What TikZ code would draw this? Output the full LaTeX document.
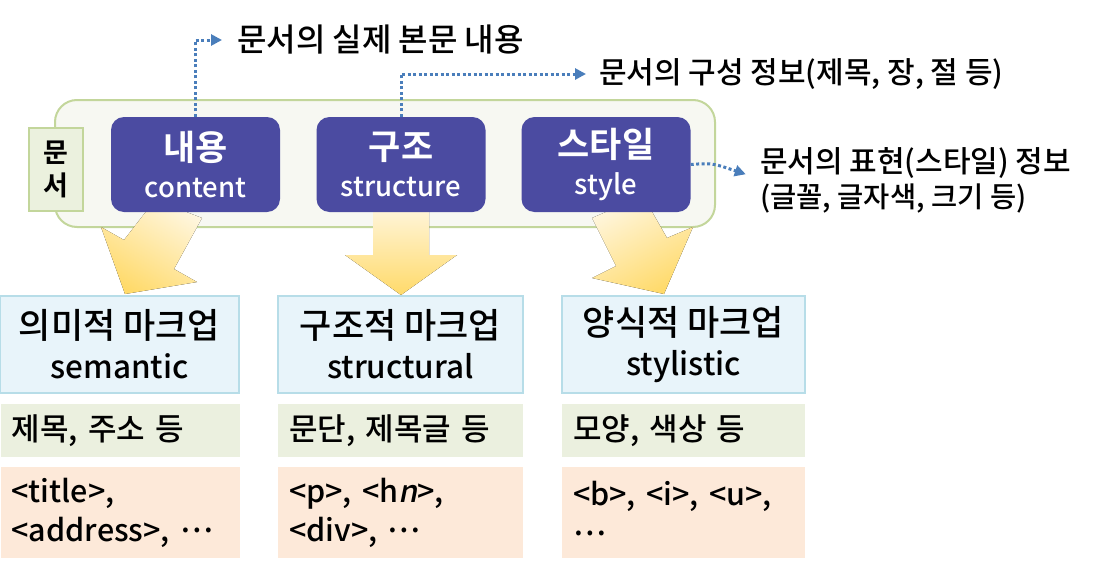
\documentclass[tikz,border=0pt]{standalone}
\usepackage{fontspec}
\setmainfont{Noto Sans CJK KR}[UprightFont={* Medium}, BoldFont={* Bold}, AutoFakeSlant=0.2]
\usetikzlibrary{arrows.meta}
\definecolor{docline}{HTML}{C3D69B}
\definecolor{docfill}{HTML}{F7F8F2}
\definecolor{doclabel}{HTML}{EBF1DE}
\definecolor{partfill}{HTML}{4B4BA1}
\definecolor{dotblue}{HTML}{4A7EBB}
\definecolor{markfill}{HTML}{E8F4FA}
\definecolor{markline}{HTML}{B7DDE8}
\definecolor{examplefill}{HTML}{EBF0DF}
\definecolor{tagfill}{HTML}{FDE9D9}
\definecolor{arrowtop}{HTML}{FFF6DE}
\definecolor{arrowbot}{HTML}{FFDA6A}
\newcommand{\etcdots}{\raisebox{0.28em}{…}}

\begin{document}
\begin{tikzpicture}[x=1pt,y=-1pt,
  part/.style={fill=partfill, rounded corners=13pt, minimum width=169pt,
    minimum height=95pt, text=white, align=center, inner sep=0pt,
    font=\fontsize{27.5}{37}\selectfont},
  info/.style={anchor=west, inner sep=0pt, font=\fontsize{30}{35}\selectfont},
  dotarrow/.style={dotblue, line width=3pt, dash pattern=on 3pt off 2.5pt,
    -{Triangle[length=11pt,width=11pt]}},
  bigarrow/.style={top color=arrowtop, bottom color=arrowbot, draw=none},
  markup/.style={fill=markfill, draw=markline, line width=1.5pt, minimum height=97pt,
    align=center, inner sep=0pt, font=\fontsize{31.5}{40}\selectfont},
  example/.style={fill=examplefill, minimum height=53pt, inner xsep=11pt,
    align=left, font=\fontsize{31}{36}\selectfont},
  tags/.style={fill=tagfill, minimum height=91pt, inner xsep=11pt,
    align=left, font=\fontsize{30.5}{39}\selectfont}]
\useasboundingbox (0,0) rectangle (1105,570);
% document frame
\draw[docline, fill=docfill, line width=2pt, rounded corners=22pt] (55,100) rectangle (715,227);
\node[fill=doclabel, draw=docline, line width=2pt, minimum width=54pt, minimum height=83pt,
  inner sep=0pt, align=center, font=\fontsize{27}{33}\selectfont\bfseries] (doc) at (56,169.5) {문\\서};
% yellow arrows down to the markup kinds
\fill[bigarrow, shading angle=-31] (155,200) -- (124,240) -- (101,227) -- (125,294)
  -- (197,282) -- (174,269) -- (202,218) -- cycle;
\fill[bigarrow] (373,205) -- (373,255) -- (345,255) -- (401,295) -- (457,255)
  -- (429,255) -- (429,205) -- cycle;
\fill[bigarrow, shading angle=28] (592,218) -- (616,266) -- (592,278) -- (664,294)
  -- (693,227) -- (667,238) -- (643,196) -- cycle;
% three parts of a document
\node[part] (content) at (195.5,164.5) {{\fontsize{35}{37}\selectfont\bfseries 내용}\\content};
\node[part] (structure) at (401,164.5) {{\fontsize{35}{37}\selectfont\bfseries 구조}\\structure};
\node[part] (style) at (606,164.5) {{\fontsize{35}{37}\selectfont\bfseries 스타일}\\style};
% notes with dotted arrows
\node[info, font=\fontsize{32}{35}\selectfont] (notecontent) at (237,40) {문서의 실제 본문 내용};
\node[info] (notestructure) at (599,74) {문서의 구성 정보(제목, 장, 절 등)};
\node[info, align=left] (notestyle) at (760,180) {문서의 표현(스타일) 정보\\{\fontsize{28.5}{35}\selectfont(글꼴, 글자색, 크기 등)}};
\draw[dotarrow, shorten >=15pt] (content.north) |- (notecontent.west);
\draw[dotarrow, shorten >=13pt] (structure.north) |- (notestructure.west);
\draw[dotarrow, shorten >=15pt] (style.east) .. controls (712,163) .. ([yshift=1pt]notestyle.west);
% markup kinds
\node[markup, minimum width=239pt] (semantic) at (119.5,344.5)
  {{\fontsize{35}{40}\selectfont 의미적 마크업}\\semantic};
\node[markup, minimum width=245pt] (structural) at (400.5,344.5)
  {{\fontsize{35}{40}\selectfont 구조적 마크업}\\structural};
\node[markup, minimum width=243pt] (stylistic) at (683.5,344.5)
  {{\fontsize{35}{40}\selectfont 양식적 마크업}\\stylistic};
% examples
\node[example, text width=217pt] (semex) at (120,430.5) {제목, 주소 등};
\node[example, text width=223pt] (strex) at (400.5,430.5) {문단, 제목글 등};
\node[example, text width=221pt] (styex) at (683.5,430.5) {모양, 색상 등};
% tags
\node[tags, text width=217pt] (semtag) at (120,512.5) {<title>,\\<address>, \etcdots};
\node[tags, text width=223pt] (strtag) at (400.5,512.5) {<p>, <h\textit{n}>,\\<div>, \etcdots};
\node[tags, text width=221pt] (stytag) at (683.5,512.5) {<b>, <i>, <u>,\\\etcdots};
\end{tikzpicture}
\end{document}
